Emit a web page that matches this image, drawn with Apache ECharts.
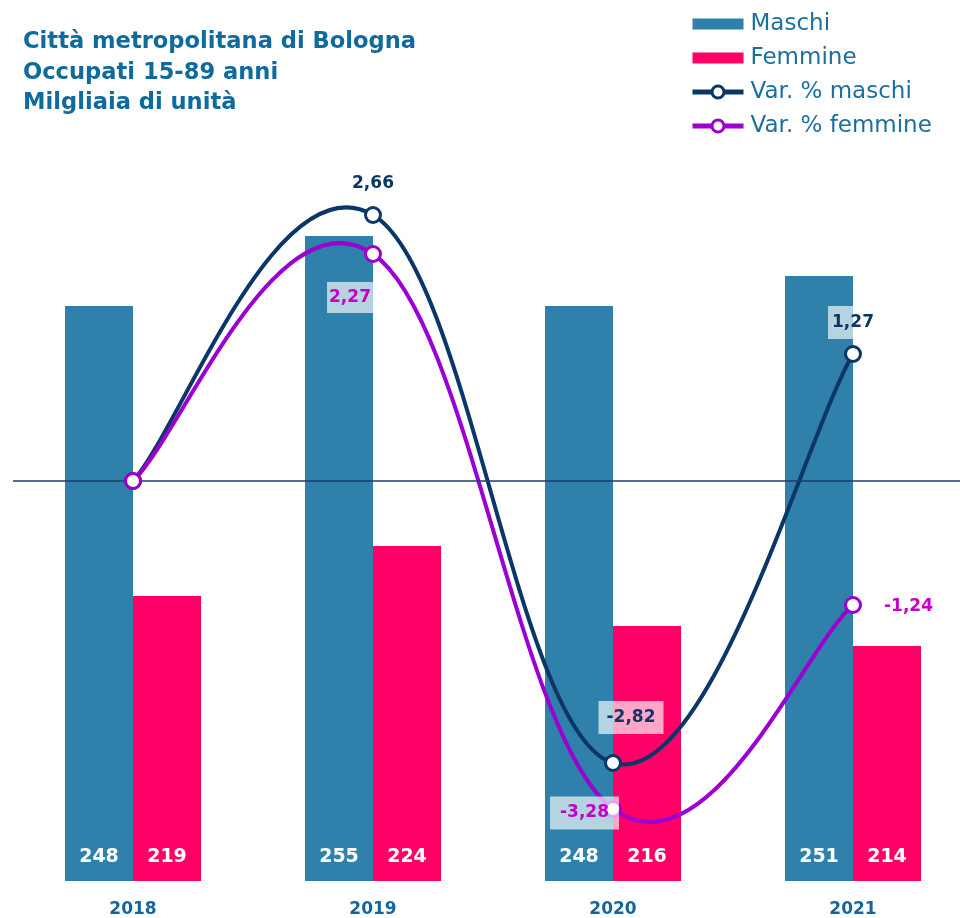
<!DOCTYPE html>
<html>
<head>
<meta charset="utf-8">
<script src="https://cdn.jsdelivr.net/npm/echarts@6/dist/echarts.min.js"></script>
<style>
  html, body { margin: 0; padding: 0; background: #fff; overflow: hidden; }
  /* il grafico originale prosegue oltre il bordo destro */
  #chart { width: 973px; height: 918px; }
</style>
</head>
<body>
<div id="chart"></div>
<script>
// dati
var anni = ['2018', '2019', '2020', '2021'];
var maschi = [248, 255, 248, 251];
var femmine = [219, 224, 216, 214];
var varMaschi = [0, 2.66, -2.82, 1.27];
var varFemmine = [0, 2.27, -3.28, -1.24];

var font = 'DejaVu Sans';
var coloreM = '#0b3768';
var coloreF = '#9b00d0';
var fmt = function (v) { return String(v).replace('.', ','); };

// etichette delle linee: posizione e sfondo per ogni punto
function lineData(values, color, labels) {
  return values.map(function (v, i) {
    var l = labels[i];
    if (!l) return { value: v, label: { show: false } };
    return {
      value: v,
      label: {
        show: true,
        position: l.pos,
        offset: l.off,
        distance: l.dist,
        color: color,
        backgroundColor: l.pad ? 'rgba(255,255,255,0.65)' : 'transparent',
        padding: l.pad || 0
      }
    };
  });
}

var labMaschi = [null,
  { pos: 'top', dist: 14, off: [0, 0] },
  { pos: 'top', dist: 14, off: [18, -6], pad: [8, 8] },
  { pos: 'top', dist: 6, off: [0, 0], pad: [8, 4] }];
var labFemmine = [null,
  { pos: 'bottom', dist: 4, off: [-23, 15], pad: [7, 2] },
  { pos: 'left', dist: 0, off: [15, 4], pad: [8, 10] },
  { pos: 'right', dist: 22, off: [0, 2] }];

// curva morbida tipo Excel (Catmull-Rom) disegnata con le coordinate dell'asse
function curva(values, color) {
  return function (params, api) {
    if (params.dataIndex !== 0) return;
    var p = values.map(function (v, i) { return api.coord([i, v]); });
    var k = 0.2;
    var segs = [];
    for (var i = 0; i < p.length - 1; i++) {
      var p0 = p[i - 1] || p[i], p1 = p[i], p2 = p[i + 1], p3 = p[i + 2] || p[i + 1];
      segs.push({
        type: 'bezierCurve',
        shape: {
          x1: p1[0], y1: p1[1], x2: p2[0], y2: p2[1],
          cpx1: p1[0] + (p2[0] - p0[0]) * k, cpy1: p1[1] + (p2[1] - p0[1]) * k,
          cpx2: p2[0] - (p3[0] - p1[0]) * k, cpy2: p2[1] - (p3[1] - p1[1]) * k
        },
        style: { stroke: color, lineWidth: 4, fill: null }
      });
    }
    return { type: 'group', children: segs };
  };
}

var myChart = echarts.init(document.getElementById('chart'));
myChart.setOption({
  animation: false,
  title: {
    text: 'Città metropolitana di Bologna\nOccupati 15-89 anni\nMilgliaia di unità',
    left: 23,
    top: 27,
    padding: 0,
    textStyle: { fontFamily: font, fontSize: 22.6, fontWeight: 'bold', color: '#0f6b9e', lineHeight: 30.5 }
  },
  legend: {
    orient: 'vertical',
    left: 690,
    top: 12,
    padding: 0,
    itemWidth: 51,
    itemHeight: 15,
    itemGap: 10,
    textStyle: { fontFamily: font, fontSize: 23, color: '#1a6fa0', lineHeight: 24, padding: [0, 0, 0, 2] },
    data: [
      { name: 'Maschi', icon: 'path://M0,0H51V11H0Z' },
      { name: 'Femmine', icon: 'path://M0,0H51V11H0Z' },
      { name: 'Var. % maschi', lineStyle: { opacity: 1, width: 5, color: coloreM }, itemStyle: { borderWidth: 3 } },
      { name: 'Var. % femmine', lineStyle: { opacity: 1, width: 5, color: coloreF }, itemStyle: { borderWidth: 3 } }
    ]
  },
  grid: { left: 13, right: 0, top: 181, bottom: 37 },
  xAxis: {
    type: 'category',
    data: anni,
    axisLine: { show: false },
    axisTick: { show: false },
    axisLabel: { margin: 20, fontFamily: font, fontSize: 17, fontWeight: 'bold', color: '#1565a0' }
  },
  yAxis: [
    { type: 'value', min: 190.5, max: 260.5, show: false, splitLine: { show: false } },
    { type: 'value', min: -4, max: 3, show: false, splitLine: { show: false } }
  ],
  series: [
    {
      name: 'Maschi',
      type: 'bar',
      barWidth: 68,
      barGap: '0%',
      itemStyle: { color: '#2f80aa' },
      label: { show: true, position: 'insideBottom', distance: 14, color: '#fff', fontFamily: font, fontSize: 19, fontWeight: 'bold' },
      data: maschi
    },
    {
      name: 'Femmine',
      type: 'bar',
      barWidth: 68,
      itemStyle: { color: '#ff0066' },
      label: { show: true, position: 'insideBottom', distance: 14, color: '#fff', fontFamily: font, fontSize: 19, fontWeight: 'bold' },
      data: femmine
    },
    {
      type: 'custom',
      yAxisIndex: 1,
      z: 3,
      silent: true,
      renderItem: curva(varMaschi, coloreM),
      data: varMaschi.map(function (v, i) { return [i, v]; })
    },
    {
      type: 'custom',
      yAxisIndex: 1,
      z: 3,
      silent: true,
      renderItem: curva(varFemmine, coloreF),
      data: varFemmine.map(function (v, i) { return [i, v]; })
    },
    {
      name: 'Var. % maschi',
      type: 'line',
      yAxisIndex: 1,
      symbol: 'circle',
      symbolSize: 15,
      z: 4,
      lineStyle: { color: coloreM, width: 4, opacity: 0 },
      itemStyle: { color: '#fff', borderColor: coloreM, borderWidth: 3 },
      label: { fontFamily: font, fontSize: 17, fontWeight: 'bold', formatter: function (p) { return fmt(p.value); } },
      markLine: {
        silent: true,
        symbol: 'none',
        label: { show: false },
        lineStyle: { color: '#163f6e', width: 1.5, type: 'solid', opacity: 1 },
        data: [{ yAxis: 0 }]
      },
      data: lineData(varMaschi, coloreM, labMaschi)
    },
    {
      name: 'Var. % femmine',
      type: 'line',
      yAxisIndex: 1,
      symbol: 'circle',
      symbolSize: 15,
      z: 5,
      lineStyle: { color: coloreF, width: 4, opacity: 0 },
      itemStyle: { color: '#fff', borderColor: coloreF, borderWidth: 3 },
      label: { fontFamily: font, fontSize: 17, fontWeight: 'bold', formatter: function (p) { return fmt(p.value); } },
      data: lineData(varFemmine, '#c400c8', labFemmine)
    }
  ]
});
</script>
</body>
</html>
